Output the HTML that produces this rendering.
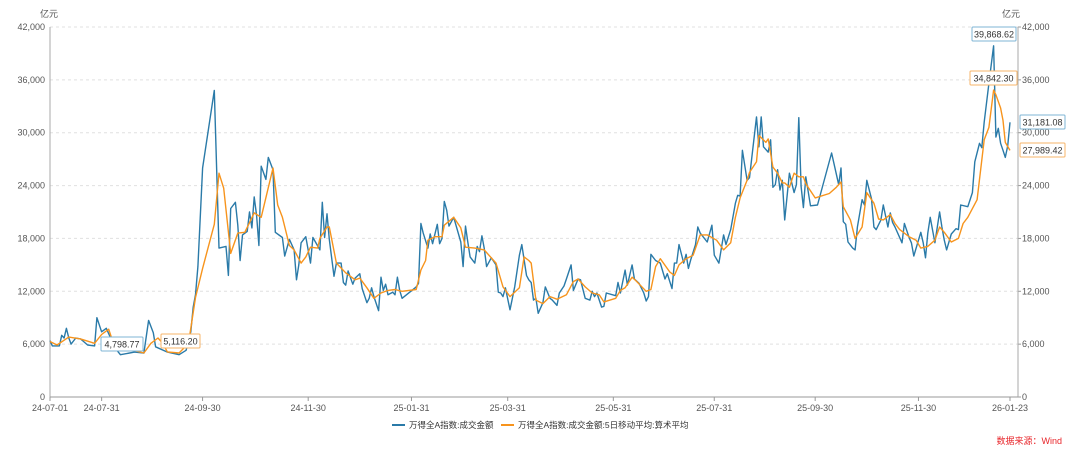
<!DOCTYPE html>
<html><head><meta charset="utf-8">
<style>
body{margin:0;background:#fff;}
svg{display:block;font-family:"Liberation Sans","Noto Sans CJK SC",sans-serif;}
</style></head>
<body>
<svg id="chart" width="1080" height="455" viewBox="0 0 1080 455">
<g id="grid"></g>
<g id="axes"></g>
<g id="series"></g>
<g id="labels"></g>
<text x="40" y="17" font-size="9" fill="#555">亿元</text>
<text x="1002" y="17" font-size="9" fill="#555">亿元</text>
<g>
<g><line x1="392" y1="425" x2="405" y2="425" stroke="#2a7aa8" stroke-width="2"/><text x="409" y="428" font-size="8.5" fill="#333">万得全A指数:成交金额</text></g>
<g><line x1="501" y1="425" x2="514" y2="425" stroke="#f7941d" stroke-width="2"/><text x="518" y="428" font-size="8.5" fill="#333">万得全A指数:成交金额:5日移动平均:算术平均</text></g>
</g>
<text x="1062" y="444" font-size="9" fill="#e8252a" text-anchor="end">数据来源：Wind</text>
</svg>
<script>
const dayIdx=[0,1,4,5,6,7,8,9,11,13,16,19,20,22,24,26,27,30,36,40,42,44,45,50,55,58,60,61,62,63,65,70,72,75,76,77,79,80,81,82,84,85,86,87,88,89,90,92,93,95,96,99,100,102,104,105,106,107,109,111,112,115,116,117,118,119,121,122,124,125,126,127,129,130,132,133,135,136,137,138,140,141,142,143,144,146,147,148,149,150,156,157,158,159,161,162,163,165,166,167,168,169,170,172,175,176,177,178,179,181,182,183,184,185,186,188,190,191,192,193,194,196,198,200,201,203,204,205,206,207,208,210,211,213,214,216,217,219,220,222,223,225,226,228,230,231,232,233,235,236,237,241,242,243,245,246,248,249,251,253,254,255,256,258,260,262,263,265,266,267,268,270,271,272,273,275,276,277,280,282,283,285,287,288,290,292,293,294,295,297,298,301,302,303,304,306,307,308,309,310,311,312,313,315,317,318,319,320,321,322,324,327,333,336,337,338,339,340,342,343,344,346,347,348,350,351,352,354,355,357,358,359,360,363,364,366,367,368,371,372,373,374,375,377,379,380,381,382,384,386,387,388,391,393,394,396,397,398,400,402,403,404,405,406,407,408,409];
const turnover=[6400,5800,5800,7000,6700,7800,6700,6000,6700,6600,5900,5800,9000,7400,7800,6600,5800,4798.77,5100,5000,8700,7300,5700,5100,4800,5300,7400,10200,11600,14800,26000,34800,16900,17100,13800,21400,22100,19500,15500,18400,18800,21000,19200,22700,20600,17200,26200,24700,27200,25800,18700,18100,16000,17900,16700,13300,15000,17500,18200,15200,18100,16700,22100,18100,20800,17900,13700,15200,15200,13000,12700,14300,12800,13500,14000,12300,10700,11200,12400,11400,9800,13600,12100,12800,11600,11900,11600,13600,12100,11200,12500,12900,19700,18600,16900,18500,17400,19600,17400,18000,22200,21200,19400,20400,17600,14800,19400,17600,15900,15200,17100,16500,18300,16900,14800,15800,15000,11900,11800,11400,12400,9900,12500,16100,17300,13800,13300,13000,11000,11200,9500,10700,12500,11200,11000,10400,11800,12600,13400,15000,12100,13400,13300,11200,11000,12000,11400,11800,10200,10300,11800,11500,13000,11800,14400,12700,15000,13400,12900,11800,10900,11400,16200,15500,15200,13400,14000,12300,15200,15200,17300,15200,16200,14600,15600,17300,19300,18600,17600,19500,16100,15200,18400,17300,19000,22000,22900,22800,28000,24600,24900,31800,28400,31800,28400,27800,29200,23800,24100,25800,23500,24600,20100,25400,23200,24100,31700,23900,21500,25000,21700,21800,27700,24100,26000,19900,19600,17600,16900,16700,19300,22400,21800,24600,22500,19300,19000,20100,21800,19300,20900,19800,19300,17500,19700,18100,17500,16000,18700,17500,15800,18600,20400,17500,21000,19300,17800,16700,18500,19100,19000,21800,21600,23200,26700,28800,28300,31200,35600,39868.62,29500,30500,28800,28000,27200,28500,31181.08];
const maIdx=[0,3,8,13,19,22,25,27,32,37,40,43,46,48,50,55,59,62,65,70,72,74,77,80,83,87,90,95,97,99,102,104,107,109,111,114,115,118,119,122,126,130,132,135,138,141,144,147,150,156,158,160,161,164,167,168,172,175,177,181,185,190,193,196,200,202,204,205,207,210,213,216,220,223,225,228,231,234,236,241,243,245,248,250,254,256,258,260,264,266,268,271,274,277,280,284,287,290,292,294,297,298,301,302,305,306,308,310,312,313,315,317,319,321,322,326,332,335,337,338,341,343,346,348,351,353,355,358,360,362,366,369,371,374,377,379,381,384,387,389,391,395,398,400,402,403,405,406,407,409];
const ma5=[6300,5900,6800,6600,6100,7100,7700,6100,5500,5200,5000,6100,6700,6100,5116.2,5000,6100,11300,14600,19600,25400,23700,16300,18600,18700,20900,20400,26000,21800,20400,17200,16700,15200,15900,17000,16900,18000,19300,19300,15200,14100,13300,13500,12400,11200,11800,12100,12200,12000,12200,14400,15500,17800,18200,18200,19500,20400,19200,17000,16900,16700,15200,12500,11400,12400,15900,15500,15200,11000,10600,11400,11100,11600,13100,13400,12500,11800,11600,10800,11200,12100,12400,13600,13100,12000,12200,14800,15700,14200,13800,15000,15700,16100,18400,18400,17800,16700,17500,20400,22600,24600,25500,26700,29700,28900,29300,26100,25400,24300,24300,23800,25400,25000,25000,24200,22600,23100,23800,24400,21600,20100,18000,19300,23200,22000,20200,20100,20700,19700,19000,18200,17800,16900,17100,17800,19300,18700,17600,18000,19700,20400,22400,29200,30600,34842.30,34300,32800,31400,28900,27989.42];
const yTicks=[0,6000,12000,18000,24000,30000,36000,42000];
const xTickLabels=["24-07-01","24-07-31","24-09-30","24-11-30","25-01-31","25-03-31","25-05-31","25-07-31","25-09-30","25-11-30","26-01-23"];

const NS="http://www.w3.org/2000/svg";
const L=50,R=1010,T=27,B=397,YMAX=42000,DMAX=409;
const xs=d=>L+d*(R-L)/DMAX;
const ys=v=>B-v*(B-T)/YMAX;
function mk(tag,attrs,parent){const e=document.createElementNS(NS,tag);for(const k in attrs)e.setAttribute(k,attrs[k]);parent.appendChild(e);return e;}
function weekdayIndex(s){const p=s.split("-");const d=new Date(Date.UTC(2000+ +p[0],+p[1]-1,+p[2]));const s0=Date.UTC(2024,6,1);let n=0;for(let t=s0;t<d.getTime();t+=86400000){const w=new Date(t).getUTCDay();if(w!==0&&w!==6)n++;}return n;}
const fmt=v=>v.toLocaleString("en-US");
const fmt2=v=>v.toLocaleString("en-US",{minimumFractionDigits:2,maximumFractionDigits:2});
const grid=document.getElementById("grid"),axes=document.getElementById("axes"),ser=document.getElementById("series"),lab=document.getElementById("labels");
yTicks.forEach(v=>{
  if(v>0){const g=mk("line",{x1:L,x2:1018,y1:ys(v),y2:ys(v),stroke:"#e0e0e0","stroke-dasharray":"3,3"},grid);
  
  }
  const t1=mk("text",{x:L-5,y:ys(v)+3,"font-size":"9",fill:"#555","text-anchor":"end"},axes);t1.textContent=fmt(v);
  
  
  const t2=mk("text",{x:1022,y:ys(v)+3,"font-size":"9",fill:"#555"},axes);t2.textContent=fmt(v);
  
  
  mk("line",{x1:1018,x2:1021,y1:ys(v),y2:ys(v),stroke:"#999"},axes);
});
const la=mk("line",{x1:L,x2:L,y1:T,y2:B,stroke:"#aaa"},axes);


const ra=mk("line",{x1:1018,x2:1018,y1:T,y2:B,stroke:"#aaa"},axes);


const xa=mk("line",{x1:L,x2:1018,y1:B,y2:B,stroke:"#999"},axes);


xTickLabels.forEach(s=>{
  const x=xs(weekdayIndex(s));
  mk("line",{x1:x,x2:x,y1:B,y2:B+4,stroke:"#999"},axes);
  const t=mk("text",{x:x,y:B+14,"font-size":"9",fill:"#555","text-anchor":"middle"},axes);t.textContent=s;
  
  
});
function line(idx,vals,color,name){
  const d=idx.map((i,k)=>(k?"L":"M")+xs(i).toFixed(1)+","+ys(vals[k]).toFixed(1)).join("");
  const p=mk("path",{d:d,fill:"none",stroke:color,"stroke-width":"1.4","stroke-linejoin":"round"},ser);
  
  
}
line(dayIdx,turnover,"#2a7aa8","turnover-line");
line(maIdx,ma5,"#f7941d","ma5-line");
function box(x,y,w,text,color,name){
  const g=mk("g",{},lab);
  
  
  mk("rect",{x:x,y:y,width:w,height:14,fill:"#fff",stroke:color,"stroke-width":"1",rx:"1"},g);
  const t=mk("text",{x:x+w/2,y:y+10.5,"font-size":"9",fill:"#333","text-anchor":"middle"},g);t.textContent=text;
}
const minT=Math.min(...turnover.slice(0,25));
box(101,337,42,fmt2(minT),"#7fb5d5","min-turnover-label");
box(161,334,39,"5,116.20","#f7b56a","min-ma5-label");
box(972,27,44,fmt2(Math.max(...turnover)),"#7fb5d5","max-turnover-label");
box(970,71,47,fmt2(Math.max(...ma5)),"#f7b56a","max-ma5-label");
box(1020,115,45,fmt2(turnover[turnover.length-1]),"#7fb5d5","last-turnover-label");
box(1020,143,45,fmt2(ma5[ma5.length-1]),"#f7b56a","last-ma5-label");
</script>
</body></html>
